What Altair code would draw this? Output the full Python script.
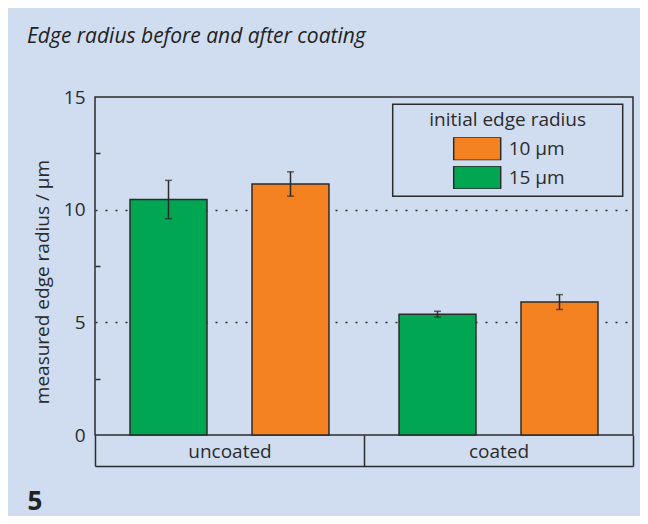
import altair as alt
import pandas as pd

# ---- data ----
groups = ["uncoated", "uncoated", "coated", "coated"]
series = ["15 µm", "10 µm", "15 µm", "10 µm"]
means = [10.45, 11.14, 5.36, 5.90]
errors = [0.85, 0.54, 0.13, 0.33]

group_order = ["uncoated", "coated"]
offset_order = ["15 µm", "10 µm"]
legend_order = ["10 µm", "15 µm"]
colors = ["#f58220", "#00a651"]
y_ticks = [0, 2.5, 5, 7.5, 10, 12.5, 15]

df = pd.DataFrame({"group": groups, "series": series, "mean": means, "err": errors})
df["lo"] = df["mean"] - df["err"]
df["hi"] = df["mean"] + df["err"]

FONT = "Open Sans"
INK = "#2b2b2b"
BG = "#d0ddf1"
YTITLE = "measured edge radius / µm"
NBSP = "\u00a0"
ZWSP = "\u200b"
# invisible room on both sides centres the title and widens the legend box
LEGEND_TITLE = ZWSP + NBSP * 6 + "initial edge radius" + NBSP * 6 + ZWSP
SWATCH = "M-1,-0.49H1V0.49H-1Z"   # 2:1 rectangle swatch

x_axis = alt.Axis(
    title="5", orient="bottom", offset=31,
    domain=True, domainColor=INK, domainWidth=1.5,
    ticks=True, tickBand="extent", tickSize={"expr": "-31"},
    tickColor=INK, tickWidth=1.5,
    labelAngle=0, labelFont=FONT, labelFontSize=19, labelColor=INK,
    labelPadding=22.3, labelBaseline="alphabetic",
    titleFont=FONT, titleFontSize=26, titleFontWeight="bold", titleColor="#222",
    titleX=-68, titleY=43, titleAlign="left", titleBaseline="alphabetic",
    titleAnchor="start",
)
x_scale = alt.Scale(domain=group_order, paddingInner=0, paddingOuter=0)
xo_scale = alt.Scale(domain=offset_order, paddingInner=0.369, paddingOuter=0.287)

y_axis = alt.Axis(
    values=y_ticks, title=YTITLE, domain=False,
    grid=True, gridColor=INK, gridWidth=1.5, gridDash=[2, 8],
    gridOpacity={"condition": {"test": "datum.value == 5 || datum.value == 10", "value": 1}, "value": 0},
    ticks=True, tickSize={"expr": "-5"}, tickColor=INK, tickWidth=1.5,
    tickOpacity={"condition": {"test": "datum.value % 5 != 0", "value": 1}, "value": 0},
    labelExpr="datum.value % 5 == 0 ? datum.label : ''",
    labelFont=FONT, labelFontSize=19, labelColor=INK, labelPadding=15,
    titleFont=FONT, titleFontSize=19, titleFontWeight="normal", titleColor=INK,
    titleX=-47, titleY=184.5, titleAlign="center", titleBaseline="alphabetic",
)
y_scale = alt.Scale(domain=[0, 15], nice=False)


def X():
    return alt.X("group:N", scale=x_scale, axis=x_axis, sort=group_order)


def XO():
    return alt.XOffset("series:N", scale=xo_scale, sort=offset_order)


def Y(field):
    return alt.Y(field, type="quantitative", scale=y_scale, axis=y_axis)


base = alt.Chart(df)

bars = base.mark_bar(stroke=INK, strokeWidth=1.5).encode(
    x=X(), xOffset=XO(), y=Y("mean"),
    color=alt.Color(
        "series:N",
        scale=alt.Scale(domain=legend_order, range=colors),
        legend=alt.Legend(
            title=LEGEND_TITLE, orient="none", legendX=297.7, legendY=7.3,
            padding=7, strokeColor=INK,
            symbolType=SWATCH, symbolSize=2209,
            symbolStrokeColor=INK, symbolStrokeWidth=1.5, symbolOpacity=1,
            symbolOffset=53, labelOffset=7, clipHeight=23, rowPadding=5.7,
            labelLimit=400,
            titleFont=FONT, titleFontSize=19, titleLimit=400,
            titleFontWeight="normal", titleColor=INK, titlePadding=7,
            labelFont=FONT, labelFontSize=19, labelColor=INK,
        ),
    ),
)

rules = base.mark_rule(color=INK, strokeWidth=1.5).encode(
    x=X(), xOffset=XO(), y=Y("lo"), y2="hi:Q"
)
cap_hi = base.mark_tick(color=INK, thickness=1.5, size=7).encode(
    x=X(), xOffset=XO(), y=Y("hi")
)
cap_lo = base.mark_tick(color=INK, thickness=1.5, size=7).encode(
    x=X(), xOffset=XO(), y=Y("lo")
)

chart = (
    alt.layer(bars, rules, cap_hi, cap_lo)
    .properties(
        width=538, height=338,
        padding={"left": 87, "top": 89, "right": 7, "bottom": 81},
        autosize=alt.AutoSizeParams(type="none"),
        background=BG,
        title=alt.TitleParams(
            text="Edge radius before and after coating", anchor="start", frame="group",
            dx=-68, dy=-37, font=FONT, fontSize=21, fontStyle="italic", fontWeight="normal",
            color="#222",
        ),
    )
    .configure_view(stroke=INK, strokeWidth=1.5)
    .configure_legend(strokeWidth=1.5)
)

chart.save("out.html", embed_options={"renderer": "svg", "actions": False})
